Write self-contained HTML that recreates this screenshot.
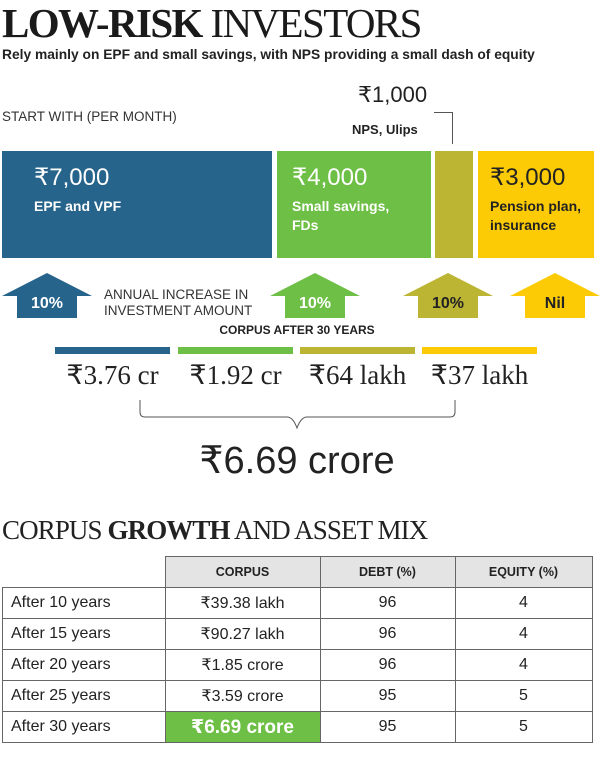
<!DOCTYPE html>
<html><head><meta charset="utf-8"><style>
body{margin:0;width:600px;height:760px;background:#fff;position:relative;overflow:hidden;font-family:"Liberation Sans","DejaVu Sans",sans-serif;color:#222}
.a{position:absolute;white-space:nowrap}
.box{position:absolute;top:151px;height:107px}
.bt{position:absolute;left:32px;top:14px;color:#fff;font-size:24px;line-height:26px}
.bs{font-size:14px;font-weight:bold;line-height:19px;margin-top:6px}
table{position:absolute;left:2px;top:556px;border-collapse:collapse;font-size:16px}
td{border:1px solid #666;height:30px;padding:0;text-align:center}
td.l{text-align:left;padding-left:8px}
th{background:#e4e4e4;border:1px solid #666;font-size:12.5px;height:30px;padding:0}
</style></head><body>
<div class="a" style="left:2px;top:-1px;font-family:'Liberation Serif',serif;font-size:41px;color:#1a1a1a;letter-spacing:-1.6px"><b>LOW-RISK</b> INVESTORS</div>
<div class="a" style="left:2px;top:47px;font-size:13.8px;font-weight:bold;color:#222">Rely mainly on EPF and small savings, with NPS providing a small dash of equity</div>
<div class="a" style="left:2px;top:109px;font-size:13.5px;color:#333">START WITH (PER MONTH)</div>
<div class="a" style="left:358px;top:82px;font-size:22px;color:#222">₹1,000</div>
<div class="a" style="left:352px;top:122px;font-size:13px;font-weight:bold">NPS, Ulips</div>
<div class="a" style="left:434px;top:112px;width:18px;height:31px;border-top:1px solid #555;border-right:1px solid #555"></div>
<div class="box" style="left:2px;width:270px;background:#27648c"><div class="bt">₹7,000<div class="bs">EPF and VPF</div></div></div>
<div class="box" style="left:277px;width:154px;background:#6dbf45"><div class="bt" style="left:15px">₹4,000<div class="bs">Small savings,<br>FDs</div></div></div>
<div class="box" style="left:435px;width:38px;background:#bcb534"></div>
<div class="box" style="left:478px;width:116px;background:#fccb05"><div class="bt" style="left:12px;color:#222">₹3,000<div class="bs">Pension plan,<br>insurance</div></div></div>
<svg class="a" style="left:0;top:270px" width="600" height="52">
<polygon points="2,26 47,3 92,26 77,26 77,48 17,48 17,26" fill="#27648c"/>
<polygon points="270,26 315,3 360,26 345,26 345,48 285,48 285,26" fill="#6dbf45"/>
<polygon points="403,26 448,3 493,26 478,26 478,48 418,48 418,26" fill="#bcb534"/>
<polygon points="510,26 555,3 600,26 585,26 585,48 525,48 525,26" fill="#fccb05"/>
<g font-family="Liberation Sans,sans-serif" font-weight="bold" font-size="16" text-anchor="middle">
<text x="47" y="38" fill="#fff">10%</text><text x="315" y="38" fill="#fff">10%</text>
<text x="448" y="38" fill="#222">10%</text><text x="555" y="38" fill="#222">Nil</text></g>
</svg>
<div class="a" style="left:104px;top:287px;font-size:13.5px;line-height:16px;color:#333">ANNUAL INCREASE IN<br>INVESTMENT AMOUNT</div>
<div class="a" style="left:0;width:594px;text-align:center;top:323px;font-size:12px;font-weight:bold">CORPUS AFTER 30 YEARS</div>
<div class="a" style="left:55px;top:347px;width:115px;height:7px;background:#27648c"></div>
<div class="a" style="left:178px;top:347px;width:115px;height:7px;background:#6dbf45"></div>
<div class="a" style="left:300px;top:347px;width:115px;height:7px;background:#bcb534"></div>
<div class="a" style="left:422px;top:347px;width:115px;height:7px;background:#fccb05"></div>
<div class="a" style="top:360px;left:0;width:600px;font-family:'Liberation Serif',serif;font-size:27px;color:#222">
<span class="a" style="left:55px;width:115px;text-align:center">₹3.76 cr</span>
<span class="a" style="left:178px;width:115px;text-align:center">₹1.92 cr</span>
<span class="a" style="left:300px;width:115px;text-align:center">₹64 lakh</span>
<span class="a" style="left:422px;width:115px;text-align:center">₹37 lakh</span></div>
<svg class="a" style="left:0;top:398px" width="600" height="40">
<path d="M140,2 V14 Q140,19 145,19 H287 Q293,19 297,30 Q301,19 307,19 H450 Q455,19 455,14 V2" fill="none" stroke="#555" stroke-width="1"/></svg>
<div class="a" style="left:0;width:594px;text-align:center;top:438px;font-size:38px;color:#222">₹6.69 crore</div>
<div class="a" style="left:2px;top:515px;font-family:'Liberation Serif',serif;font-size:27px;color:#222;letter-spacing:-0.9px">CORPUS <b>GROWTH</b> AND ASSET MIX</div>
<table>
<tr><td style="border:none;border-bottom:1px solid #666;width:162px"></td><th style="width:154px">CORPUS</th><th style="width:134px">DEBT (%)</th><th style="width:136px">EQUITY (%)</th></tr>
<tr><td class="l">After 10 years</td><td>₹39.38 lakh</td><td>96</td><td>4</td></tr>
<tr><td class="l">After 15 years</td><td>₹90.27 lakh</td><td>96</td><td>4</td></tr>
<tr><td class="l">After 20 years</td><td>₹1.85 crore</td><td>96</td><td>4</td></tr>
<tr><td class="l">After 25 years</td><td>₹3.59 crore</td><td>95</td><td>5</td></tr>
<tr><td class="l">After 30 years</td><td style="background:#6dbf45;color:#fff;font-weight:bold;font-size:19px">₹6.69 crore</td><td>95</td><td>5</td></tr>
</table>
</body></html>
